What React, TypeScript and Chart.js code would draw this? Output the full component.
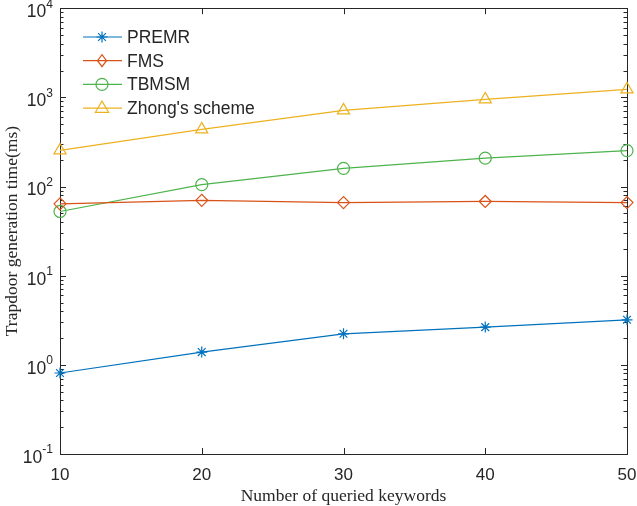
import React, { useEffect, useRef } from "react";
import { Chart, registerables } from "chart.js";

Chart.register(...registerables);

const keywords = [10, 20, 30, 40, 50];
const premr = [0.81, 1.39, 2.23, 2.65, 3.2];
const fms = [64, 70, 66, 68, 66];
const tbmsm = [52.5, 105, 160, 208, 253];
const zhong = [254, 437, 714, 950, 1230];
const seriesNames = ["PREMR", "FMS", "TBMSM", "Zhong's scheme"];
const yTickExponents = [-1, 0, 1, 2, 3, 4];
const xTicks = [10, 20, 30, 40, 50];

const colors = ["#0072BD", "#D95319", "#4DB34D", "#EDB120"];
const styles = ["star", "rectRot", "circle", "triangle"];
const radii = [5.5, 6, 6, 7];

const SANS = "'Liberation Sans', Arial, Helvetica, sans-serif";
const SERIF = "'Liberation Serif', 'Times New Roman', serif";

function drawPoint(ctx: CanvasRenderingContext2D, style: string, r: number, x: number, y: number, color: string) {
  ctx.save();
  ctx.strokeStyle = color;
  ctx.lineWidth = 1.2;
  ctx.beginPath();
  if (style === "star") {
    for (let k = 0; k < 4; k++) {
      const a = (k * Math.PI) / 4;
      ctx.moveTo(x - r * Math.cos(a), y - r * Math.sin(a));
      ctx.lineTo(x + r * Math.cos(a), y + r * Math.sin(a));
    }
    ctx.stroke();
  } else if (style === "rectRot") {
    ctx.moveTo(x, y - r);
    ctx.lineTo(x + r * 0.75, y);
    ctx.lineTo(x, y + r);
    ctx.lineTo(x - r * 0.75, y);
    ctx.closePath();
    ctx.stroke();
  } else if (style === "circle") {
    ctx.arc(x, y, r, 0, Math.PI * 2);
    ctx.stroke();
  } else if (style === "triangle") {
    ctx.moveTo(x, y - r);
    ctx.lineTo(x + r * 0.95, y + r * 0.6);
    ctx.lineTo(x - r * 0.95, y + r * 0.6);
    ctx.closePath();
    ctx.stroke();
  }
  ctx.restore();
}

const axesPlugin = {
  id: "matlabAxes",
  beforeDatasetsDraw(chart: any) {
    const ctx = chart.ctx;
    const { left, right, top, bottom } = chart.chartArea;
    const xs = chart.scales.x;
    const ys = chart.scales.y;
    ctx.save();
    ctx.strokeStyle = "#262626";
    ctx.lineWidth = 1;
    ctx.strokeRect(Math.round(left) + 0.5, Math.round(top) + 0.5, Math.round(right - left), Math.round(bottom - top));
    ctx.beginPath();
    for (const v of xTicks) {
      const px = Math.round(xs.getPixelForValue(v)) + 0.5;
      ctx.moveTo(px, bottom);
      ctx.lineTo(px, bottom - 6);
      ctx.moveTo(px, top);
      ctx.lineTo(px, top + 6);
    }
    for (let e = -1; e <= 4; e++) {
      for (let m = 1; m <= 9; m++) {
        const v = m * Math.pow(10, e);
        if (v > 10000 + 1e-9) break;
        const py = Math.round(ys.getPixelForValue(v)) + 0.5;
        const len = m === 1 ? 6 : 3.5;
        ctx.moveTo(left, py);
        ctx.lineTo(left + len, py);
        ctx.moveTo(right, py);
        ctx.lineTo(right - len, py);
      }
    }
    ctx.stroke();

    ctx.fillStyle = "#262626";
    ctx.font = `17px ${SANS}`;
    ctx.textAlign = "center";
    ctx.textBaseline = "middle";
    for (const v of xTicks) {
      ctx.fillText(String(v), xs.getPixelForValue(v), bottom + 21);
    }
    for (const e of yTickExponents) {
      const py = ys.getPixelForValue(Math.pow(10, e));
      const exp = String(e);
      ctx.font = `12px ${SANS}`;
      const ew = ctx.measureText(exp).width;
      ctx.textAlign = "right";
      ctx.fillText(exp, left - 7, py - 4);
      ctx.font = `17.5px ${SANS}`;
      ctx.fillText("10", left - 7 - ew, py + 4);
    }

    ctx.font = `17.5px ${SERIF}`;
    ctx.textAlign = "center";
    ctx.fillText("Number of queried keywords", (left + right) / 2, bottom + 42);
    ctx.save();
    ctx.translate(12, (top + bottom) / 2);
    ctx.rotate(-Math.PI / 2);
    ctx.fillText("Trapdoor generation time(ms)", 0, 0);
    ctx.restore();
    ctx.restore();
  },
  afterDatasetsDraw(chart: any) {
    const ctx = chart.ctx;
    ctx.save();
    const x0 = 83, x1 = 122, xm = 102, tx = 127;
    const y0 = 37, dy = 23.7;
    chart.data.datasets.forEach((ds: any, i: number) => {
      const y = y0 + i * dy;
      ctx.strokeStyle = ds.borderColor;
      ctx.lineWidth = 1.2;
      ctx.beginPath();
      ctx.moveTo(x0, y);
      ctx.lineTo(x1, y);
      ctx.stroke();
      drawPoint(ctx, ds.pointStyle, ds.pointRadius, xm, y, ds.borderColor);
      ctx.fillStyle = "#262626";
      ctx.font = `17.5px ${SANS}`;
      ctx.textAlign = "left";
      ctx.textBaseline = "middle";
      ctx.fillText(ds.label, tx, y + 1);
    });
    ctx.restore();
  },
};

export default function App() {
  const ref = useRef<HTMLCanvasElement | null>(null);
  useEffect(() => {
    if (!ref.current) return;
    const series = [premr, fms, tbmsm, zhong];
    const chart = new Chart(ref.current, {
      type: "line",
      data: {
        datasets: series.map((vals, i) => ({
          label: seriesNames[i],
          data: keywords.map((k, j) => ({ x: k, y: vals[j] })),
          borderColor: colors[i],
          backgroundColor: "rgba(0,0,0,0)",
          borderWidth: 1.2,
          pointStyle: styles[i],
          pointRadius: radii[i],
          pointBorderWidth: 1.2,
          pointBackgroundColor: "rgba(0,0,0,0)",
          pointBorderColor: colors[i],
          tension: 0,
          clip: false,
        })),
      },
      options: {
        animation: false,
        responsive: false,
        layout: { padding: { top: 6, right: 10, left: 0, bottom: 0 } },
        plugins: { legend: { display: false }, tooltip: { enabled: false } },
        scales: {
          x: {
            type: "linear",
            min: 10,
            max: 50,
            grid: { display: false },
            border: { display: false },
            ticks: { display: false },
            afterFit: (s: any) => { s.height = 52; },
          },
          y: {
            type: "logarithmic",
            min: 0.1,
            max: 10000,
            grid: { display: false },
            border: { display: false },
            ticks: { display: false },
            afterFit: (s: any) => { s.width = 60; },
          },
        },
      } as any,
      plugins: [axesPlugin],
    });
    return () => chart.destroy();
  }, []);
  return (
    <div style={{ position: "fixed", left: 0, top: 0, width: 637, height: 506, background: "#fff" }}>
      <canvas ref={ref} width={637} height={506} />
    </div>
  );
}
